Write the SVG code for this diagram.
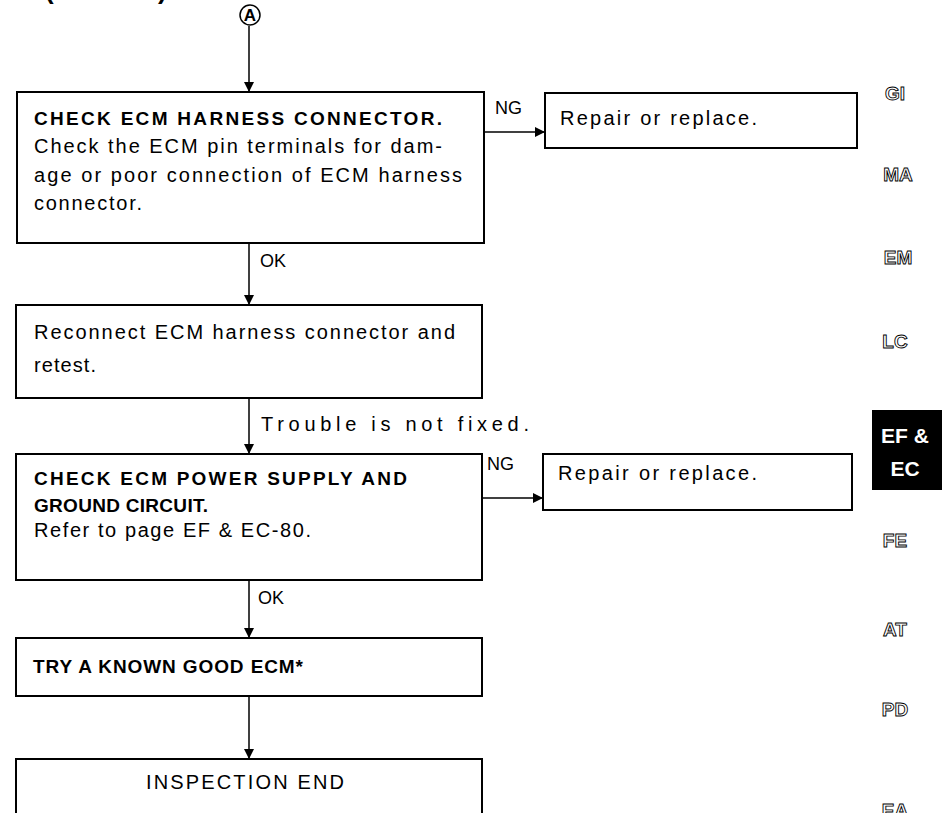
<svg xmlns="http://www.w3.org/2000/svg" width="942" height="813" viewBox="0 0 942 813">
  <defs>
    <marker id="arrow" viewBox="0 0 10 10" refX="10" refY="5" markerWidth="10" markerHeight="11" markerUnits="userSpaceOnUse" orient="auto">
      <path d="M0,0 L10,5 L0,10 z" fill="#000"/>
    </marker>
    <style>
      .box { fill: #fff; stroke: #000; stroke-width: 2; }
      .txt { font-family: "Liberation Sans", Arial, Helvetica, sans-serif; font-size: 20px; fill: #000; }
      .bold { font-weight: bold; font-size: 19px; }
      .lbl { font-family: "Liberation Sans", Arial, Helvetica, sans-serif; font-size: 18px; fill: #000; }
      .conn { stroke: #000; stroke-width: 1.5; fill: none; }
      .tab { font-family: "Liberation Sans", Arial, Helvetica, sans-serif; font-size: 19px; font-weight: bold; fill: #fff; stroke: #000; stroke-width: 0.9; text-anchor: middle; }
      .tabon { font-family: "Liberation Sans", Arial, Helvetica, sans-serif; font-size: 21px; font-weight: bold; fill: #fff; text-anchor: middle; }
    </style>
  </defs>
  <rect width="942" height="813" fill="#fff"/>

  <!-- heading remnant at the page top -->
  <text class="txt bold" x="45" y="-1" style="font-size:26px">(</text>
  <text class="txt bold" x="158" y="-1" style="font-size:26px">)</text>

  <!-- connector A entry -->
  <g id="entryA">
    <circle cx="250" cy="15" r="10" fill="#fff" stroke="#000" stroke-width="1.5"/>
    <text class="txt bold" x="250" y="21" style="font-size:17px" text-anchor="middle">A</text>
  </g>

  <g id="connectors">
    <line class="conn" x1="249" y1="26" x2="249" y2="92" marker-end="url(#arrow)"/>
    <line class="conn" x1="484" y1="132" x2="545" y2="132" marker-end="url(#arrow)"/>
    <line class="conn" x1="249" y1="243" x2="249" y2="305" marker-end="url(#arrow)"/>
    <line class="conn" x1="249" y1="398" x2="249" y2="454" marker-end="url(#arrow)"/>
    <line class="conn" x1="482" y1="498" x2="543" y2="498" marker-end="url(#arrow)"/>
    <line class="conn" x1="249" y1="580" x2="249" y2="638" marker-end="url(#arrow)"/>
    <line class="conn" x1="249" y1="696" x2="249" y2="759" marker-end="url(#arrow)"/>
    <text class="lbl" x="495" y="114">NG</text>
    <text class="lbl" x="260" y="267">OK</text>
    <text class="txt" x="261" y="431" textLength="268" lengthAdjust="spacing">Trouble is not fixed.</text>
    <text class="lbl" x="487" y="470">NG</text>
    <text class="lbl" x="258" y="604">OK</text>
  </g>

  <g id="checkHarness">
    <rect class="box" x="17" y="92" width="467" height="151"/>
    <text class="txt bold" x="34" y="125" textLength="408" lengthAdjust="spacing">CHECK ECM HARNESS CONNECTOR.</text>
    <text class="txt" x="34" y="153" textLength="408" lengthAdjust="spacing">Check the ECM pin terminals for dam-</text>
    <text class="txt" x="34" y="182" textLength="428" lengthAdjust="spacing">age or poor connection of ECM harness</text>
    <text class="txt" x="34" y="210" textLength="108" lengthAdjust="spacing">connector.</text>
  </g>

  <g id="repair1">
    <rect class="box" x="545" y="93" width="312" height="55"/>
    <text class="txt" x="560" y="125" textLength="197" lengthAdjust="spacing">Repair or replace.</text>
  </g>

  <g id="reconnect">
    <rect class="box" x="16" y="305" width="466" height="93"/>
    <text class="txt" x="34" y="339" textLength="421" lengthAdjust="spacing">Reconnect ECM harness connector and</text>
    <text class="txt" x="34" y="372" textLength="62" lengthAdjust="spacing">retest.</text>
  </g>

  <g id="checkPower">
    <rect class="box" x="16" y="454" width="466" height="126"/>
    <text class="txt bold" x="34" y="485" textLength="373" lengthAdjust="spacing">CHECK ECM POWER SUPPLY AND</text>
    <text class="txt bold" x="34" y="512" textLength="174" lengthAdjust="spacing">GROUND CIRCUIT.</text>
    <text class="txt" x="34" y="537" textLength="277" lengthAdjust="spacing">Refer to page EF &amp; EC-80.</text>
  </g>

  <g id="repair2">
    <rect class="box" x="543" y="454" width="309" height="56"/>
    <text class="txt" x="558" y="480" textLength="199" lengthAdjust="spacing">Repair or replace.</text>
  </g>

  <g id="tryEcm">
    <rect class="box" x="16" y="638" width="466" height="58"/>
    <text class="txt bold" x="33" y="673" textLength="270" lengthAdjust="spacing">TRY A KNOWN GOOD ECM*</text>
  </g>

  <g id="inspectionEnd">
    <rect class="box" x="16" y="759" width="466" height="70"/>
    <text class="txt" x="146" y="789" textLength="198" lengthAdjust="spacing">INSPECTION END</text>
  </g>

  <!-- section index tabs -->
  <g id="tabs">
    <text class="tab" x="895" y="100">GI</text>
    <text class="tab" x="898" y="181">MA</text>
    <text class="tab" x="898" y="264">EM</text>
    <text class="tab" x="895" y="348">LC</text>
    <rect x="872" y="410" width="70" height="80" fill="#000"/>
    <text class="tabon" x="905" y="443">EF &amp;</text>
    <text class="tabon" x="905" y="476">EC</text>
    <text class="tab" x="895" y="547">FE</text>
    <text class="tab" x="895" y="636">AT</text>
    <text class="tab" x="895" y="716">PD</text>
    <text class="tab" x="895" y="817">EA</text>
  </g>
</svg>
